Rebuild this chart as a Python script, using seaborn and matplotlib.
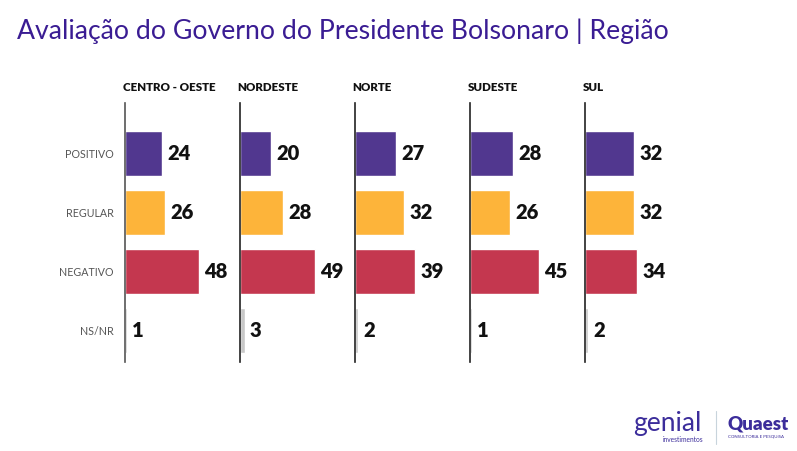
import matplotlib
matplotlib.use("Agg")
import matplotlib.pyplot as plt
import seaborn as sns
import pandas as pd

# data
regions = ["CENTRO - OESTE", "NORDESTE", "NORTE", "SUDESTE", "SUL"]
categories = ["POSITIVO", "REGULAR", "NEGATIVO", "NS/NR"]
positivo = [24, 20, 27, 28, 32]
regular = [26, 28, 32, 26, 32]
negativo = [48, 49, 39, 45, 34]
nsnr = [1, 3, 2, 1, 2]

colors = ["#51378F", "#FDB43A", "#C4374F", "#C8C8C8"]
title_color = "#3A1C93"

sns.set_theme(style="white")
plt.rcParams["font.family"] = ["Lato", "DejaVu Sans"]

fig = plt.figure(figsize=(7.97, 4.51), dpi=100)
W, H = 797, 451
left_px, panel_px = 125, 115
top_px, bot_px = 103, 362

series = [positivo, regular, negativo, nsnr]
for i, reg in enumerate(regions):
    ax = fig.add_axes([(left_px + i * panel_px) / W, 1 - bot_px / H,
                       panel_px / W, (bot_px - top_px) / H])
    df = pd.DataFrame({"cat": categories, "val": [s[i] for s in series]})
    sns.barplot(data=df, y="cat", x="val", hue="cat", palette=colors,
                order=categories, hue_order=categories, orient="h",
                width=0.76, legend=False, ax=ax, saturation=1)
    ax.set_xlim(0, 75)
    ax.set_ylim(3.54, -0.86)
    for sp in ["top", "right", "bottom"]:
        ax.spines[sp].set_visible(False)
    ax.spines["left"].set_color("#555555" if i == 0 else "#222222")
    ax.spines["left"].set_linewidth(1.2)
    ax.set_xticks([])
    ax.set_xlabel("")
    ax.set_ylabel("")
    if i == 0:
        ax.set_yticks(range(4))
        ax.set_yticklabels(categories, fontsize=7.7, color="#555555")
        ax.tick_params(axis="y", length=0, pad=8)
    else:
        ax.set_yticks([])
    for j, s in enumerate(series):
        v = s[i]
        ax.text(v + 3.4, j, str(v), va="center", ha="left", fontsize=14.5,
                fontweight="heavy", color="#111111")
    ax.text(-0.02, 1.04, reg, transform=ax.transAxes, ha="left", va="bottom",
            fontsize=8.3, fontweight="heavy", color="#111111")

fig.text(17 / W, 1 - 31 / H, "Avaliação do Governo do Presidente Bolsonaro | Região",
         fontsize=19.2, color=title_color, ha="left", va="center")

# logos as text
fig.text(633 / W, 1 - 424 / H, "genial", fontsize=19, color="#3C2D9B",
         ha="left", va="center")
fig.text(703 / W, 1 - 439 / H, "investimentos", fontsize=4.8, color="#3C2D9B",
         ha="right", va="center")
fig.add_artist(plt.Line2D([716 / W, 716 / W], [1 - 411 / H, 1 - 444 / H],
                          color="#C8D4DC", lw=0.8))
fig.text(727 / W, 1 - 424 / H, "Quaest", fontsize=13.5, fontweight="heavy",
         color="#3C2D9B", ha="left", va="center")
fig.text(728 / W, 1 - 437 / H, "CONSULTORIA E PESQUISA", fontsize=3.2,
         color="#3C2D9B", ha="left", va="center")

fig.savefig("out.png", dpi=100)
